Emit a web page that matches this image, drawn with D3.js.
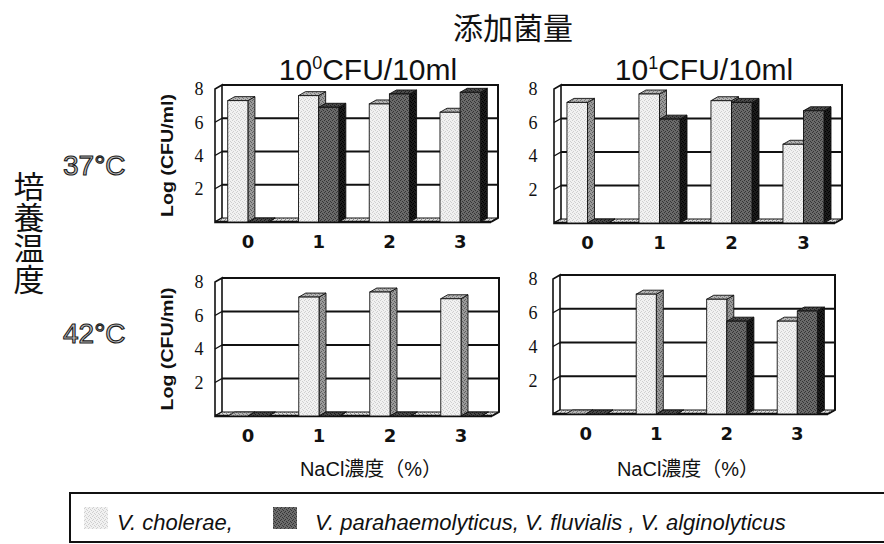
<!DOCTYPE html>
<html>
<head>
<meta charset="utf-8">
<script src="https://cdn.jsdelivr.net/npm/d3@7"></script>
<style>
  body { margin: 0; background: #fff; }
  text { fill: #111; }
</style>
</head>
<body>
<svg id="chart" width="884" height="544"></svg>
<script>
// ---- data ----
const categories = ["0", "1", "2", "3"];                 // NaCl concentration (%)
const seriesNames = ["V. cholerae,", "V. parahaemolyticus, V. fluvialis , V. alginolyticus"];
const yTicks = [2, 4, 6, 8];                              // Log (CFU/ml)
const doseExponents = ["0", "1"];                         // 10^n CFU/10ml
const temperatures = ["37°C", "42°C"];

// Log(CFU/ml) per NaCl level
const cholerae_37_d0 = [7.3, 7.6, 7.1, 6.6];
const others_37_d0   = [0,   6.9, 7.7, 7.8];
const cholerae_37_d1 = [7.2, 7.7, 7.3, 4.7];
const others_37_d1   = [0,   6.2, 7.2, 6.7];
const cholerae_42_d0 = [0,   7.1, 7.4, 7.0];
const others_42_d0   = [0,   0,   0,   0  ];
const cholerae_42_d1 = [0,   7.1, 6.8, 5.5];
const others_42_d1   = [0,   0,   5.5, 6.1];

const panelValues = [
  [[cholerae_37_d0, others_37_d0], [cholerae_37_d1, others_37_d1]],
  [[cholerae_42_d0, others_42_d0], [cholerae_42_d1, others_42_d1]]
];

// ---- layout ----
const panelBox = [
  [{ xL: 215, xR: 498, top: 85,  floor: 222, tickX: 199 }, { xL: 554, xR: 842, top: 85,  floor: 223, tickX: 533 }],
  [{ xL: 215, xR: 499, top: 278, floor: 416, tickX: 199 }, { xL: 553, xR: 835, top: 275, floor: 414, tickX: 533 }]
];
const DX = 7, DY = 4;   // 3-D depth offset

const svg = d3.select("#chart");
const defs = svg.append("defs");

// halftone-like fills
function speckle(id, base, dot) {
  const p = defs.append("pattern").attr("id", id)
    .attr("width", 4).attr("height", 4).attr("patternUnits", "userSpaceOnUse");
  p.append("rect").attr("width", 4).attr("height", 4).attr("fill", base);
  [[0, 0], [2, 1], [1, 3], [3, 2]].forEach(([a, b]) =>
    p.append("rect").attr("x", a).attr("y", b).attr("width", 1).attr("height", 1).attr("fill", dot));
}
speckle("lightFront", "#f1f1f1", "#cfcfcf");
speckle("lightSide", "#9a9a9a", "#5e5e5e");
speckle("lightTop", "#b4b4b4", "#7a7a7a");
speckle("darkFront", "#6a6a6a", "#353535");
speckle("darkSide", "#1c1c1c", "#000");
speckle("darkTop", "#4a4a4a", "#1e1e1e");
speckle("floorFill", "#e0e0e0", "#8a8a8a");

const faces = [
  { front: "url(#lightFront)", side: "url(#lightSide)", top: "url(#lightTop)" },
  { front: "url(#darkFront)", side: "url(#darkSide)", top: "url(#darkTop)" }
];

function drawPanel(box, series, showYTitle) {
  const g = svg.append("g");
  const floorBack = box.floor - DY;
  const y = d3.scaleLinear().domain([0, 8]).range([floorBack, box.top]);   // back wall
  const yFront = v => y(v) + DY;                                          // front plane
  const x0 = d3.scaleBand().domain(categories).range([box.xL, box.xR]);
  const bw = x0.bandwidth();
  const x1 = d3.scaleBand().domain(d3.range(series.length)).range([bw * 0.18, bw * 0.75]);

  // back wall
  g.append("rect").attr("x", box.xL + DX).attr("y", box.top)
    .attr("width", box.xR - box.xL - DX).attr("height", floorBack - box.top).attr("fill", "#fff");

  // gridlines
  g.selectAll(".grid").data(yTicks.filter(t => t < 8)).join("line")
    .attr("x1", box.xL + DX).attr("x2", box.xR)
    .attr("y1", d => y(d)).attr("y2", d => y(d))
    .attr("stroke", "#111").attr("stroke-width", 2);

  // left wall
  g.append("path")
    .attr("d", `M${box.xL},${box.floor} L${box.xL},${box.top + DY} L${box.xL + DX},${box.top} L${box.xL + DX},${floorBack} Z`)
    .attr("fill", "#fff").attr("stroke", "#111").attr("stroke-width", 1.6);
  g.selectAll(".wtick").data(yTicks.filter(t => t < 8)).join("line")
    .attr("x1", box.xL).attr("x2", box.xL + DX)
    .attr("y1", d => yFront(d)).attr("y2", d => y(d))
    .attr("stroke", "#111").attr("stroke-width", 1.4);

  // floor slab
  g.append("path")
    .attr("d", `M${box.xL},${box.floor} L${box.xL + DX},${floorBack} L${box.xR},${floorBack} L${box.xR - DX},${box.floor} Z`)
    .attr("fill", "url(#floorFill)").attr("stroke", "#111").attr("stroke-width", 1);
  g.append("line").attr("x1", box.xL).attr("x2", box.xR - DX)
    .attr("y1", box.floor).attr("y2", box.floor).attr("stroke", "#111").attr("stroke-width", 2.6);

  // bars
  categories.forEach((c, i) => {
    series.forEach((vals, s) => {
      const v = vals[i];
      const x = x0(c) + x1(s), w = x1.bandwidth();
      const yt = yFront(v), yb = box.floor;
      const f = faces[s];
      const bar = g.append("g");
      bar.append("path")
        .attr("d", `M${x + w},${yt} L${x + w + DX},${yt - DY} L${x + w + DX},${yb - DY} L${x + w},${yb} Z`)
        .attr("fill", f.side).attr("stroke", "#111").attr("stroke-width", 0.9);
      bar.append("path")
        .attr("d", `M${x},${yt} L${x + DX},${yt - DY} L${x + w + DX},${yt - DY} L${x + w},${yt} Z`)
        .attr("fill", f.top).attr("stroke", "#111").attr("stroke-width", 0.9);
      if (v > 0) {
        bar.append("rect").attr("x", x).attr("y", yt).attr("width", w).attr("height", yb - yt)
          .attr("fill", f.front).attr("stroke", "#111").attr("stroke-width", 0.9);
      }
    });
  });

  // top and right border of the wall
  g.append("path")
    .attr("d", `M${box.xL + DX},${box.top} L${box.xR},${box.top} L${box.xR},${floorBack} L${box.xR - DX},${box.floor}`)
    .attr("fill", "none").attr("stroke", "#111").attr("stroke-width", 2);

  // y tick labels
  const yAxis = g.append("g").attr("transform", `translate(${box.tickX + 6},4)`)
    .call(d3.axisLeft(y).tickValues(yTicks).tickSize(0).tickPadding(0).tickFormat(d3.format("d")));
  yAxis.select(".domain").remove();
  yAxis.selectAll("text").attr("text-anchor", "middle").attr("x", -6)
    .style("font-family", "'Liberation Serif', serif").style("font-size", "18px").style("fill", "#111");

  // category labels
  const xAxis = g.append("g")
    .attr("transform", `translate(${x1(0) + x1.bandwidth() - bw / 2},${box.floor + 26})`)
    .call(d3.axisBottom(x0).tickSize(0).tickPadding(0));
  xAxis.select(".domain").remove();
  xAxis.selectAll("text").attr("dy", 0).attr("y", 0)
    .style("font-family", "'DejaVu Sans', sans-serif").style("font-weight", "bold")
    .style("font-size", "18px").style("fill", "#111");

  if (showYTitle) {
    const cx = box.xL - 46, cy = (box.top + box.floor) / 2 + 2;
    g.append("text").attr("transform", `translate(${cx},${cy}) rotate(-90)`)
      .attr("text-anchor", "middle").attr("dominant-baseline", "middle")
      .attr("textLength", 123).attr("lengthAdjust", "spacingAndGlyphs")
      .style("font-family", "'Liberation Sans', Arial, sans-serif").style("font-weight", "bold")
      .style("font-size", "16px").text("Log (CFU/ml)");
  }
  return { x0, x1 };
}

panelBox.forEach((row, r) => row.forEach((box, c) => drawPanel(box, panelValues[r][c], c === 0)));

// ---- titles ----
svg.append("text").attr("x", 513).attr("y", 39).attr("text-anchor", "middle")
  .style("font-family", "'Noto Sans CJK JP', sans-serif").style("font-size", "30px").text("添加菌量");

const doseCenters = [368, 704];
doseExponents.forEach((e, i) => {
  const t = svg.append("text").attr("x", doseCenters[i]).attr("y", 80).attr("text-anchor", "middle")
    .style("font-family", "'Liberation Sans', Arial, sans-serif").style("font-size", "30px");
  t.append("tspan").text("10");
  t.append("tspan").attr("dy", -11).style("font-size", "18px").text(e);
  t.append("tspan").attr("dy", 11).text("CFU/10ml");
});

// temperature labels
const tempY = [175, 343];
temperatures.forEach((t, i) => {
  svg.append("text").attr("x", 63).attr("y", tempY[i])
    .style("font-family", "'Liberation Sans', Arial, sans-serif").style("font-size", "28px")
    .style("fill", "#c4c4c4").attr("stroke", "#1a1a1a").attr("stroke-width", 1.1).text(t);
});

// vertical row title, set top-to-bottom
svg.append("text").attr("x", 29).attr("y", 171)
  .style("writing-mode", "vertical-rl").style("glyph-orientation-vertical", "0")
  .style("font-family", "'Noto Sans CJK JP', sans-serif").style("font-size", "31px")
  .text("培養温度");

// x axis titles
[371, 688].forEach(cx => {
  svg.append("text").attr("x", cx).attr("y", 476).attr("text-anchor", "middle")
    .style("font-family", "'Liberation Sans', 'Noto Sans CJK JP', sans-serif").style("font-size", "20px")
    .text("NaCl濃度（%）");
});

// ---- legend ----
svg.append("rect").attr("x", 70).attr("y", 493).attr("width", 830).attr("height", 49)
  .attr("fill", "#fff").attr("stroke", "#111").attr("stroke-width", 2);
const legendItems = [
  { swatchX: 84, textX: 117, fill: "url(#lightFront)" },
  { swatchX: 273, textX: 315, fill: "url(#darkFront)" }
];
seriesNames.forEach((name, i) => {
  const it = legendItems[i];
  svg.append("rect").attr("x", it.swatchX).attr("y", 507).attr("width", 24).attr("height", 22)
    .attr("fill", it.fill);
  svg.append("text").attr("x", it.textX).attr("y", 530)
    .style("font-family", "'Liberation Sans', Arial, sans-serif").style("font-style", "italic")
    .style("font-size", "22px").text(name);
});
</script>
</body>
</html>
